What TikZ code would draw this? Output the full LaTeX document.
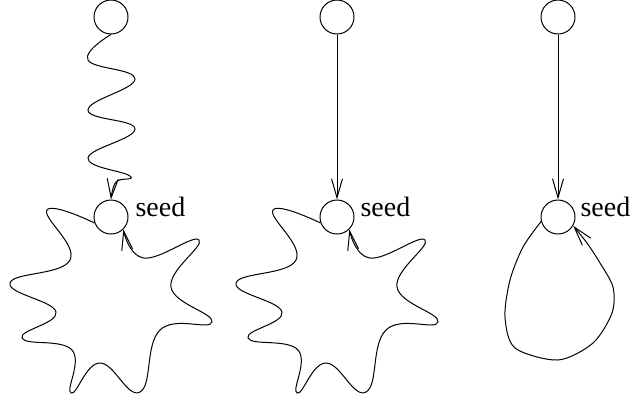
\documentclass[tikz,border=0pt]{standalone}
\usepackage{fontspec}
\setmainfont{Liberation Serif}
\usetikzlibrary{arrows.meta}
\begin{document}
\begin{tikzpicture}[x=1pt,y=-1pt,line width=1pt,
  state/.style={draw,circle,minimum size=34pt,inner sep=0pt},
  lab/.style={font=\fontsize{28}{30}\selectfont,inner sep=0pt,anchor=base west},
  arr/.style={-{Straight Barb[length=19pt,width=11pt,line width=1pt]}}]
\useasboundingbox (0,0) rectangle (634,400);
% nodes
\node[state] (t1) at (111,17) {};
\node[state] (s1) at (111,217) {};
\node[state] (t2) at (337,17) {};
\node[state] (s2) at (337,217) {};
\node[state] (t3) at (558,17) {};
\node[state] (s3) at (558,217) {};
\node[lab] (l1) at ([xshift=24pt,yshift=1pt]s1.center) {seed};
\node[lab] (l2) at ([xshift=23pt,yshift=1pt]s2.center) {seed};
\node[lab] (l3) at ([xshift=22pt,yshift=1pt]s3.center) {seed};
% panel 1: wavy path
\draw[arr] plot[smooth,tension=0.75] coordinates {(t1.south) (88,60) (135,79) (88,110) (135,129) (88,158) (130,176) (116,182) (s1.north)};
% stars
\draw[arr] plot[smooth,tension=0.75] coordinates {(s1.200) (47,210) (70,260) (10,283) (56,312) (22,338) (72,350) (71,393) (100,363) (140,392) (160,330) (212,322) (171,287) (199,240) (144,258) (s1.-45)};
\begin{scope}[xshift=226pt]
\draw[arr] plot[smooth,tension=0.75] coordinates {(s2.200) (47,210) (70,260) (10,283) (56,312) (22,338) (72,350) (71,393) (100,363) (140,392) (160,330) (212,322) (171,287) (199,240) (144,258) (s2.-45)};
\end{scope}
% panel 2, 3 straight arrows
\draw[arr] (t2) -- (s2);
\draw[arr] (t3) -- (s3);
% panel 3 loop
\draw[arr] plot[smooth,tension=0.5] coordinates {(s3.195) (523,247) (510,280) (505,317) (515,348) (558,360) (593,343) (612,313) (613,287) (600,263) (587,243) (s3.-30)};
\end{tikzpicture}
\end{document}
